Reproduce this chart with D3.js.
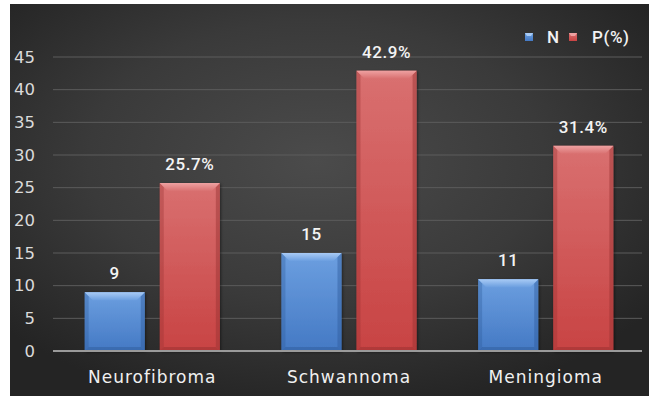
<!DOCTYPE html>
<html>
<head>
<meta charset="utf-8">
<script src="https://cdn.jsdelivr.net/npm/d3@7"></script>
<style>
  html, body { margin: 0; padding: 0; background: #ffffff; }
  svg { display: block; }
</style>
</head>
<body>
<svg id="chart" width="649" height="396"></svg>
<script>
// Tumour types and their counts / percentages
const categories = ["Neurofibroma", "Schwannoma", "Meningioma"];
const seriesNames = ["N", "P(%)"];
const countValues = [9, 15, 11];
const percentValues = [25.7, 42.9, 31.4];
const yTicks = [0, 5, 10, 15, 20, 25, 30, 35, 40, 45];

const W = 649, H = 396;
const panel = { x: 10, y: 4, w: W - 10, h: H - 4 };
const plot = { left: 54, right: 644, top: 57, bottom: 351 };

const svg = d3.select("#chart");
const defs = svg.append("defs");

// dark panel with a soft central glow
const bg = defs.append("radialGradient").attr("id", "bg")
  .attr("cx", "48%").attr("cy", "40%").attr("r", "65%");
bg.append("stop").attr("offset", "0%").attr("stop-color", "#4b4b4b");
bg.append("stop").attr("offset", "55%").attr("stop-color", "#3a3a3a");
bg.append("stop").attr("offset", "100%").attr("stop-color", "#242424");

svg.append("rect")
  .attr("x", panel.x).attr("y", panel.y)
  .attr("width", panel.w).attr("height", panel.h)
  .attr("fill", "url(#bg)");

const palette = {
  "N":    { top: "#6c9fe0", bottom: "#4479c4", bevel: "#a9cbf5", edge: "#2f5c9c" },
  "P(%)": { top: "#d97070", bottom: "#c84343", bevel: "#eea1a1", edge: "#973030" }
};
seriesNames.forEach((s, i) => {
  const g = defs.append("linearGradient").attr("id", "fill" + i)
    .attr("x1", 0).attr("y1", 0).attr("x2", 0).attr("y2", 1);
  g.append("stop").attr("offset", "0%").attr("stop-color", palette[s].top);
  g.append("stop").attr("offset", "100%").attr("stop-color", palette[s].bottom);
  const b = defs.append("linearGradient").attr("id", "bevel" + i)
    .attr("x1", 0).attr("y1", 0).attr("x2", 0).attr("y2", 1);
  b.append("stop").attr("offset", "0%").attr("stop-color", palette[s].bevel);
  b.append("stop").attr("offset", "100%").attr("stop-color", palette[s].top);
});

const shadow = defs.append("filter").attr("id", "shadow")
  .attr("x", "-20%").attr("y", "-20%").attr("width", "140%").attr("height", "140%");
shadow.append("feDropShadow").attr("dx", 1).attr("dy", 1).attr("stdDeviation", 1.5)
  .attr("flood-color", "#000").attr("flood-opacity", 0.5);

// scales
const x0 = d3.scaleBand().domain(categories)
  .range([plot.left, plot.right]).paddingOuter(0.156).paddingInner(0.313);
const x1 = d3.scaleBand().domain(seriesNames)
  .range([0, x0.bandwidth()]).paddingInner(0.2);
const y = d3.scaleLinear().domain([0, 45]).range([plot.bottom, plot.top]);

// gridlines
svg.append("g").selectAll("line").data(yTicks.filter(t => t > 0)).join("line")
  .attr("x1", plot.left - 1).attr("x2", plot.right - 2)
  .attr("y1", d => y(d)).attr("y2", d => y(d))
  .attr("stroke", "#5c5c5c").attr("stroke-width", 1);

// y axis labels
const yAxis = svg.append("g")
  .attr("transform", `translate(${plot.left - 19},0)`)
  .call(d3.axisLeft(y).tickValues(yTicks).tickSize(0).tickPadding(0));
yAxis.select(".domain").remove();
yAxis.selectAll("text")
  .attr("fill", "#dadada")
  .style("font-family", "'DejaVu Sans', sans-serif")
  .style("font-size", "16.5px");

// bars
const groups = svg.append("g").selectAll("g").data(categories).join("g")
  .attr("transform", d => `translate(${x0(d)},0)`);

const barData = (c, ci) => [
  { s: "N", si: 0, v: countValues[ci], label: String(countValues[ci]) },
  { s: "P(%)", si: 1, v: percentValues[ci], label: percentValues[ci].toFixed(1) + "%" }
];

groups.each(function (c, ci) {
  const g = d3.select(this);
  const bars = g.selectAll("g.bar").data(barData(c, ci)).join("g").attr("class", "bar");
  const bw = x1.bandwidth();
  bars.each(function (d) {
    const b = d3.select(this);
    const bx = x1(d.s), top = y(d.v), h = y(0) - y(d.v);
    const p = palette[d.s];
    b.append("rect").attr("x", bx).attr("y", top).attr("width", bw).attr("height", h)
      .attr("fill", `url(#fill${d.si})`).attr("filter", "url(#shadow)");
    // side and bottom edges
    const e = 4;
    b.append("path")
      .attr("d", `M${bx},${top} L${bx + e},${top + e} L${bx + e},${top + h - e} L${bx},${top + h} Z`)
      .attr("fill", p.edge).attr("opacity", 0.35);
    b.append("path")
      .attr("d", `M${bx + bw},${top} L${bx + bw - e},${top + e} L${bx + bw - e},${top + h - e} L${bx + bw},${top + h} Z`)
      .attr("fill", p.edge).attr("opacity", 0.45);
    b.append("path")
      .attr("d", `M${bx},${top + h} L${bx + e},${top + h - e} L${bx + bw - e},${top + h - e} L${bx + bw},${top + h} Z`)
      .attr("fill", p.edge).attr("opacity", 0.5);
    // top bevel
    const t = 8;
    b.append("path")
      .attr("d", `M${bx},${top} L${bx + bw},${top} L${bx + bw - t},${top + t} L${bx + t},${top + t} Z`)
      .attr("fill", `url(#bevel${d.si})`);
    // value label
    b.append("text")
      .attr("x", bx + bw / 2).attr("y", top - 13)
      .attr("text-anchor", "middle")
      .attr("fill", "#f4f4f4")
      .style("font-family", "Roboto, sans-serif")
      .style("font-weight", "500")
      .style("font-size", "17px")
      .style("letter-spacing", "0.6px")
      .text(d.label);
  });
});

// zero axis line
svg.append("line")
  .attr("x1", plot.left - 1).attr("x2", plot.right - 2)
  .attr("y1", y(0)).attr("y2", y(0))
  .attr("stroke", "#9a9a9a").attr("stroke-width", 2);

// category labels
const xAxis = svg.append("g")
  .attr("transform", `translate(0,${y(0)})`)
  .call(d3.axisBottom(x0).tickSize(0).tickPadding(20));
xAxis.select(".domain").remove();
xAxis.selectAll("text")
  .attr("fill", "#f0f0f0")
  .style("font-family", "'DejaVu Sans', sans-serif")
  .style("font-size", "17px")
  .style("letter-spacing", "1px");

// legend
const legend = svg.append("g").attr("transform", "translate(525,37)");
const legendItems = [
  { s: "N", si: 0, x: 0, tx: 22 },
  { s: "P(%)", si: 1, x: 44, tx: 67 }
];
legendItems.forEach(it => {
  const g = legend.append("g").attr("transform", `translate(${it.x},0)`);
  g.append("rect").attr("x", 0).attr("y", -4).attr("width", 8).attr("height", 8)
    .attr("fill", `url(#fill${it.si})`);
  g.append("path").attr("d", "M0,-4 L8,-4 L6,-1 L2,-1 Z").attr("fill", palette[it.s].bevel);
  legend.append("text").attr("x", it.tx).attr("y", 0).attr("dy", "0.35em")
    .attr("fill", "#f2f2f2")
    .style("font-family", "Roboto, sans-serif")
    .style("font-weight", "500")
    .style("font-size", "17px")
    .style("letter-spacing", "0.6px")
    .text(it.s);
});
</script>
</body>
</html>
